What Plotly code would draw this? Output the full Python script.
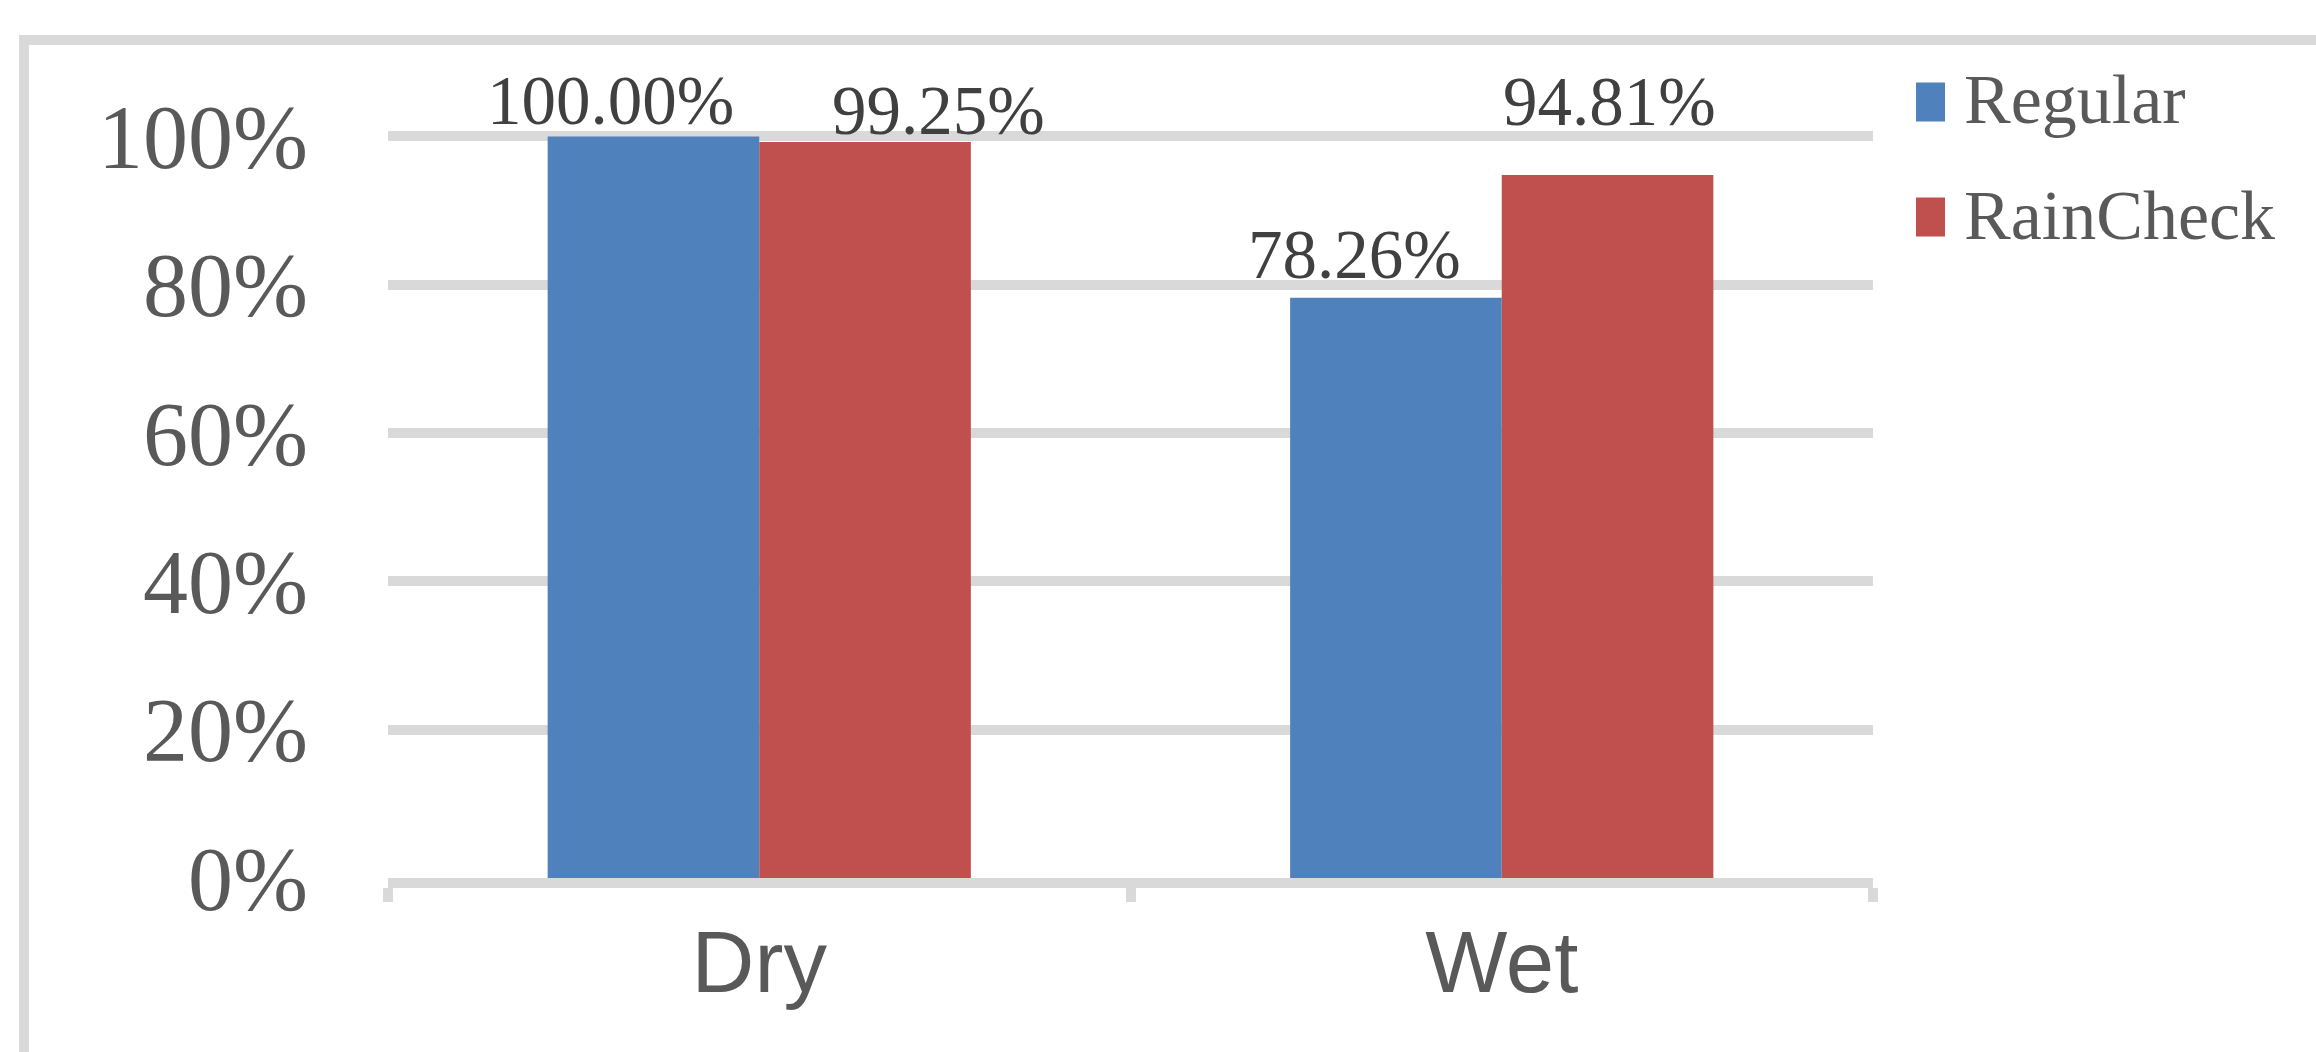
import plotly.graph_objects as go

# Share of successful runs per road condition
conditions = ["Dry", "Wet"]
series_names = ["Regular", "RainCheck"]
regular = [1.0, 0.7826]
raincheck = [0.9925, 0.9481]
y_ticks = [0, 0.2, 0.4, 0.6, 0.8, 1.0]

colors = ["#4f81bd", "#c0504d"]
grid_gray = "#d9d9d9"
serif = "Liberation Serif, Times New Roman, serif"
sans = "Liberation Sans, Arial, sans-serif"

W, H = 2316, 1052
Y_MAX = 1.01  # small headroom so the 100% gridline is drawn
PLOT_L, PLOT_R, PLOT_B = 388, 1873, 878
PLOT_T = round(PLOT_B - (PLOT_B - 136) * Y_MAX)
BARGAP = 0.43


def paper_x(px):
    return (px - PLOT_L) / (PLOT_R - PLOT_L)


def paper_y(py):
    return (PLOT_B - py) / (PLOT_B - PLOT_T)


fig = go.Figure()
for name, vals, col in zip(series_names, [regular, raincheck], colors):
    fig.add_trace(go.Bar(
        x=conditions, y=vals, name=name,
        marker=dict(color=col, line=dict(width=0)),
        showlegend=False,
    ))

# value labels above the bars (manually nudged like the original layout)
label_nudge = {  # (series index, category index) -> (dx px, dy px)
    (0, 0): (-43, 35), (1, 0): (73, 31),
    (0, 1): (-41, 43), (1, 1): (2, 73),
}
half = (1 - BARGAP) / 4
annotations = []
for si, vals in enumerate([regular, raincheck]):
    for ci, v in enumerate(vals):
        dx, dy = label_nudge[(si, ci)]
        annotations.append(dict(
            x=ci + (-half if si == 0 else half), y=v, xref="x", yref="y",
            text=f"{v:.2%}", showarrow=False,
            xanchor="center", yanchor="middle",
            xshift=dx, yshift=dy,
            font=dict(family=serif, size=69, color="#404040"),
        ))

# legend drawn as swatches + text
legend_rows = [102, 217]
shapes = []
for name, col, yc in zip(series_names, colors, legend_rows):
    shapes.append(dict(
        type="rect", xref="paper", yref="paper",
        x0=paper_x(1916), x1=paper_x(1945),
        y0=paper_y(yc + 19.5), y1=paper_y(yc - 19.5),
        fillcolor=col, line=dict(width=0),
    ))
    annotations.append(dict(
        x=paper_x(1962), y=paper_y(yc - 2), xref="paper", yref="paper",
        text=name, showarrow=False, xanchor="left", yanchor="middle",
        font=dict(family=serif, size=70, color="#595959"),
    ))

# outer chart frame
shapes.append(dict(
    type="rect", xref="paper", yref="paper",
    x0=paper_x(24), x1=paper_x(2400), y0=paper_y(1120), y1=paper_y(40),
    line=dict(color=grid_gray, width=10), fillcolor="rgba(0,0,0,0)",
    layer="below",
))

fig.update_layout(
    width=W, height=H,
    margin=dict(l=PLOT_L, r=W - PLOT_R, t=PLOT_T, b=H - PLOT_B, pad=0),
    paper_bgcolor="white", plot_bgcolor="white",
    barmode="group", bargap=BARGAP, bargroupgap=0,
    showlegend=False,
    annotations=annotations, shapes=shapes,
    xaxis=dict(
        type="category", categoryorder="array", categoryarray=conditions,
        showline=True, linecolor=grid_gray, linewidth=10,
        ticks="outside", tickson="boundaries", ticklen=14,
        tickwidth=10, tickcolor=grid_gray,
        showgrid=False, zeroline=False,
        tickfont=dict(family=sans, size=87, color="#595959"),
    ),
    yaxis=dict(
        range=[0, Y_MAX], tickvals=y_ticks, tickformat=".0%",
        showgrid=True, gridcolor=grid_gray, gridwidth=10,
        zeroline=False, showline=False, ticks="",
        ticklabelstandoff=79,
        tickfont=dict(family=serif, size=90, color="#595959"),
    ),
)

fig.write_html("out.html")
